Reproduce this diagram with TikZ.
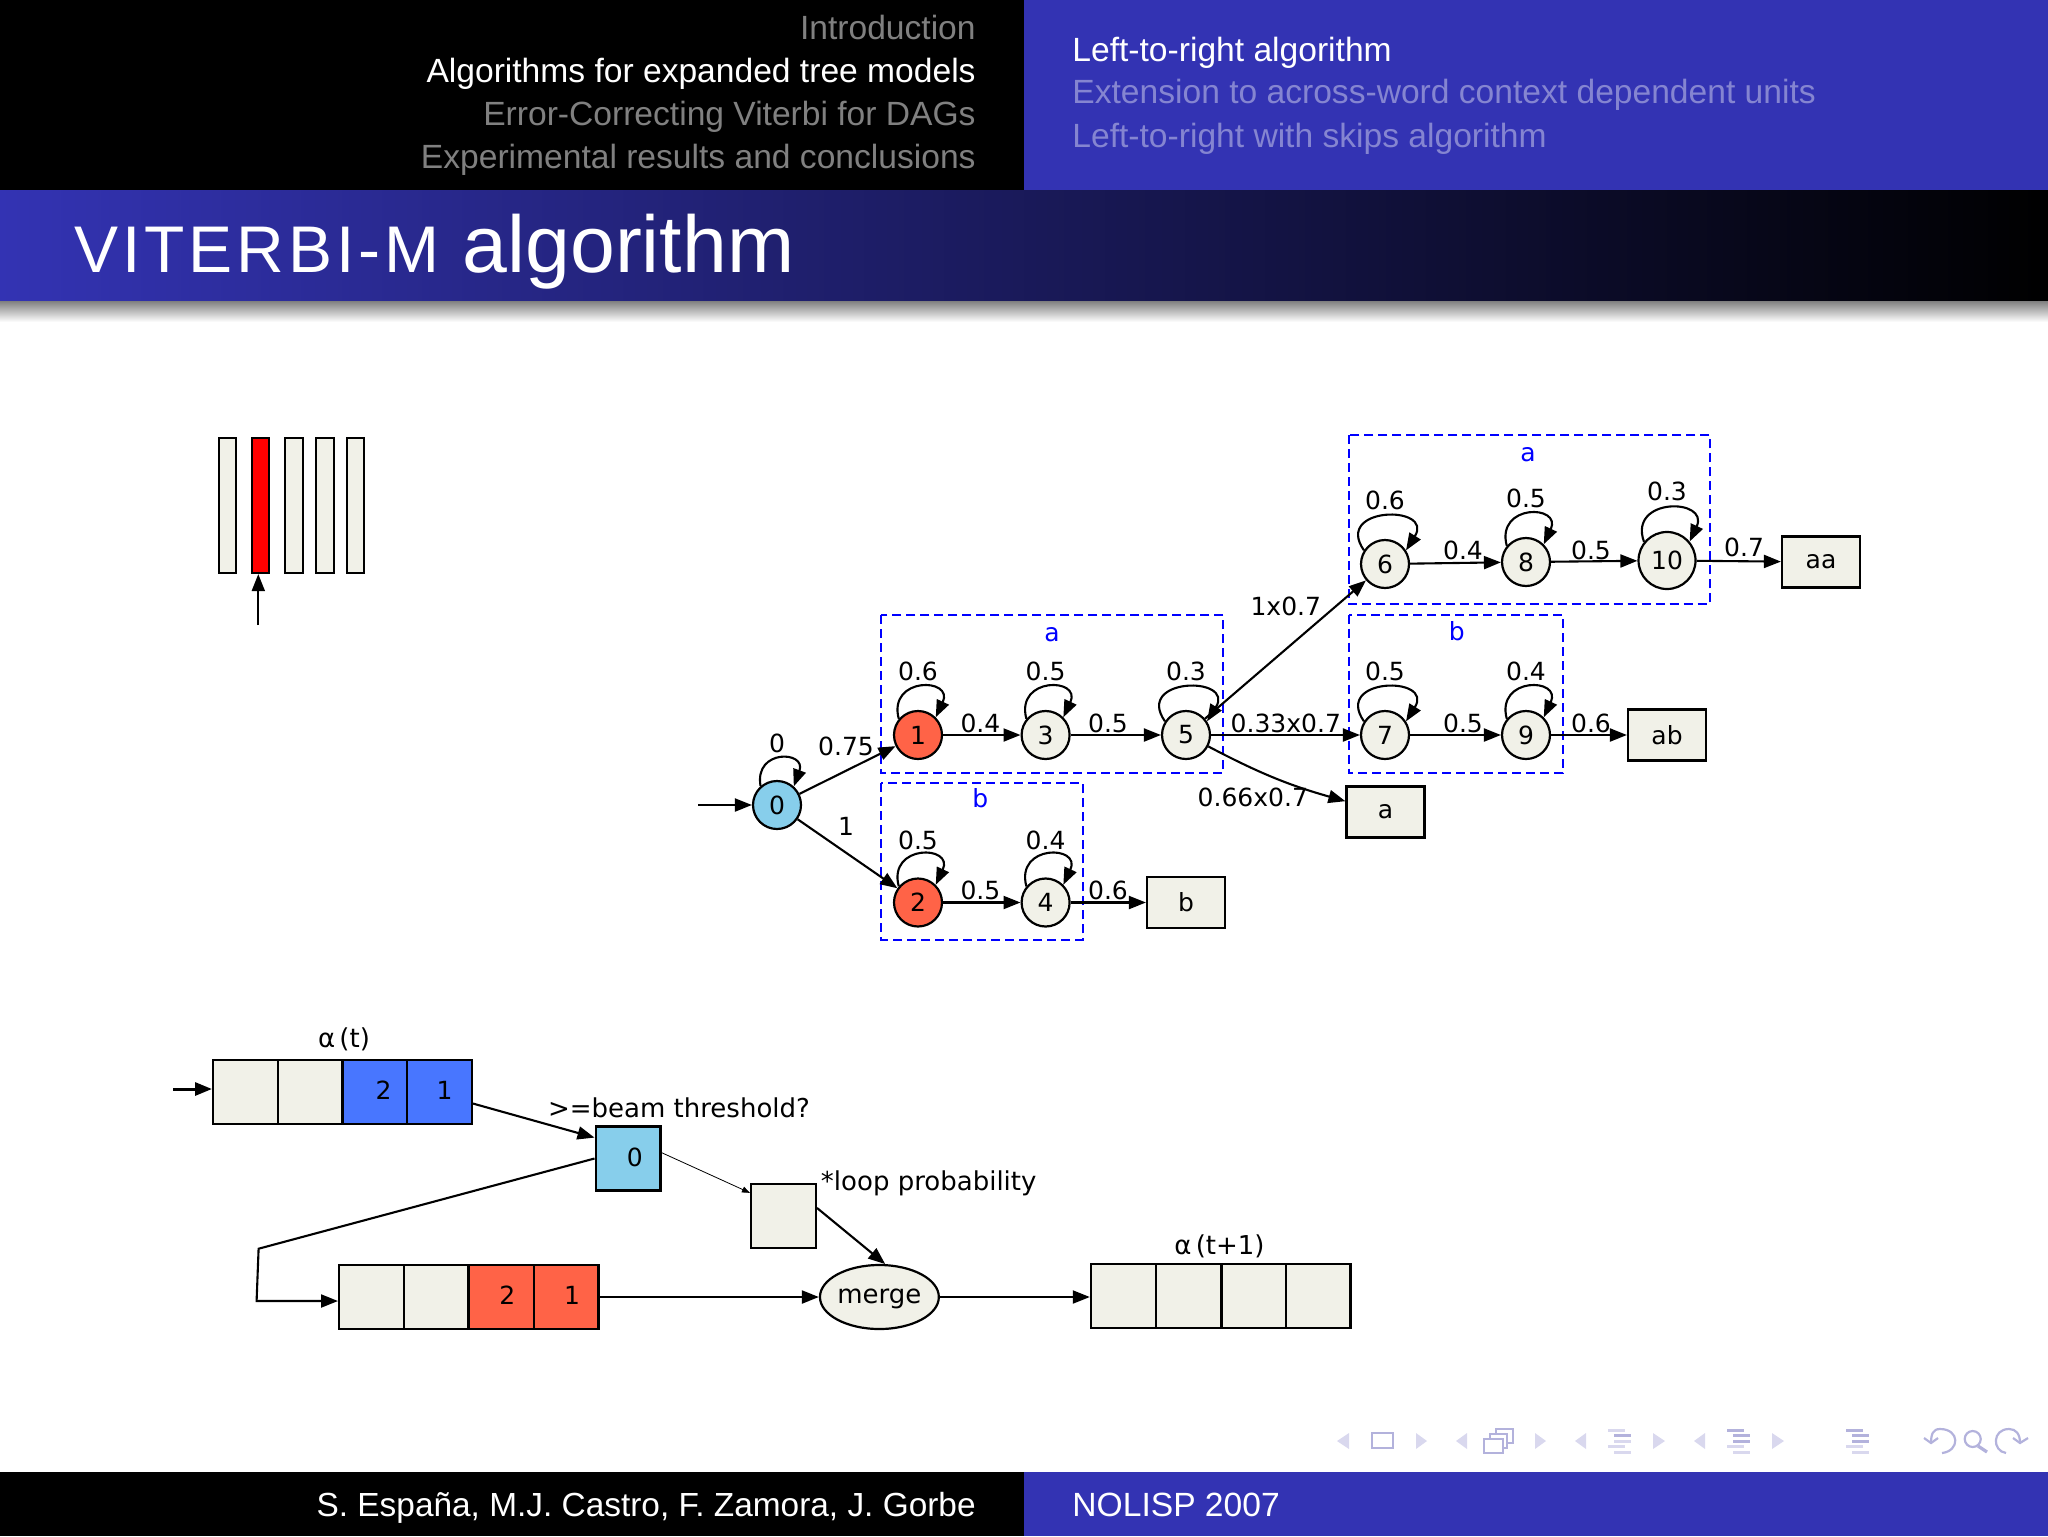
\documentclass[tikz,border=0pt]{standalone}
\usepackage{fontspec}
\setmainfont{Liberation Sans}
\newfontfamily\dotfont{DejaVu Sans}
\usetikzlibrary{arrows.meta,shapes.geometric}
\definecolor{slideblue}{HTML}{3333B3}
\definecolor{dimblue}{HTML}{8585D1}
\definecolor{dimgrey}{HTML}{808080}
\definecolor{cream}{HTML}{F1F1E8}
\definecolor{tomato}{HTML}{FF6347}
\definecolor{skyblue}{HTML}{87CEEB}
\definecolor{royal}{HTML}{4876FF}
\definecolor{navpale}{HTML}{D9D8EE}
\definecolor{navdark}{HTML}{B3B2DC}
\tikzset{
  state/.style={circle,draw,line width=1.1pt,fill=cream,minimum size=24pt,inner sep=0pt,font=\dotfont\fontsize{12.5}{14}\selectfont},
  final/.style={rectangle,draw,line width=1.1pt,fill=cream,minimum width=39pt,minimum height=25.5pt,inner sep=0pt,font=\dotfont\fontsize{12.5}{14}\selectfont},
  bar/.style={rectangle,draw,line width=1.1pt,fill=cream,minimum width=8.7pt,minimum height=67.5pt,inner sep=0pt},
  cell/.style={rectangle,draw,line width=1.1pt,fill=cream,minimum width=32.4pt,minimum height=32pt,inner sep=0pt,text height=7.5pt,text depth=0pt,font=\dotfont\fontsize{12.5}{14}\selectfont},
  lbl/.style={inner sep=0pt,font=\dotfont\fontsize{12.5}{14}\selectfont},
  biglbl/.style={inner sep=0pt,font=\dotfont\fontsize{13}{15}\selectfont},
  group/.style={draw=blue,line width=1pt,dash pattern=on 4.5pt off 2.5pt},
  grouplbl/.style={lbl,text=blue},
  edge/.style={line width=1.05pt,-{Triangle[length=8.5pt,width=6.5pt]}},
  selfloop/.style={out=105,in=65,distance=22pt},
  wideloop/.style={out=125,in=58,distance=27pt},
  head/.style={inner sep=0pt,font=\fontsize{16.8}{20}\selectfont},
  navtri/.style={fill=navpale,draw=none},
  navline/.style={draw=navdark,line width=1.1pt}
}
\begin{document}
\begin{tikzpicture}[x=0.5pt,y=-0.5pt]
  \useasboundingbox (0,0) rectangle (2048,1536);
  % header and footer
  \fill[black] (0,0) rectangle (1024,190);
  \fill[slideblue] (1024,0) rectangle (2048,190);
  \shade[left color=slideblue,right color=black] (0,190) rectangle (2048,301);
  \shade[top color=black!50,bottom color=white] (0,301) rectangle (2048,322);
  \fill[black] (0,1472) rectangle (1024,1536);
  \fill[slideblue] (1024,1472) rectangle (2048,1536);
  \node[head,anchor=base east,text=dimgrey] (secintro) at (976,40) {Introduction};
  \node[head,anchor=base east,text=white] (secalgo) at (976,83) {Algorithms for expanded tree models};
  \node[head,anchor=base east,text=dimgrey] (secdag) at (976,126) {Error-Correcting Viterbi for DAGs};
  \node[head,anchor=base east,text=dimgrey] (secres) at (976,168.5) {Experimental results and conclusions};
  \node[head,anchor=base west,text=white] (subleft) at (1072,62) {Left-to-right algorithm};
  \node[head,anchor=base west,text=dimblue] (subext) at (1072,104) {Extension to across-word context dependent units};
  \node[head,anchor=base west,text=dimblue] (subskip) at (1072,148) {Left-to-right with skips algorithm};
  \node[anchor=base west,inner sep=0pt,text=white] (title) at (74,272) {\fontsize{33}{40}\selectfont\addfontfeature{LetterSpace=6}VITERBI-M\hspace{11.5pt}\fontsize{40.3}{48}\selectfont\addfontfeature{LetterSpace=0}algorithm};
  \node[anchor=base east,inner sep=0pt,font=\fontsize{16.7}{20}\selectfont,text=white] (authors) at (976,1516) {S. España, M.J. Castro, F. Zamora, J. Gorbe};
  \node[head,anchor=base west,text=white] (event) at (1072,1516) {NOLISP 2007};
  % frames
  \node[bar] (bar1) at (227.6,505.5) {};
  \node[bar,fill=red] (bar2) at (260.5,505.5) {};
  \node[bar] (bar3) at (294,505.5) {};
  \node[bar] (bar4) at (325,505.5) {};
  \node[bar] (bar5) at (355.5,505.5) {};
  \coordinate (framestart) at (258.3,625);
  \draw[edge] (framestart) -- (framestart |- bar2.south);
  % groups
  \draw[group] (881.3,615) rectangle (1223.3,773);
  \draw[group] (881.3,783.3) rectangle (1082.7,939.6);
  \draw[group] (1348.7,435) rectangle (1710,604);
  \draw[group] (1348.7,614.6) rectangle (1563,773);
  \node[grouplbl] (groupa) at (1052,635) {a};
  \node[grouplbl] (groupb) at (980.4,798) {b};
  \node[grouplbl] (groupaa) at (1528,455) {a};
  \node[grouplbl] (groupab) at (1456.7,631) {b};
  % states
  \node[state,fill=skyblue] (n0) at (777,805) {0};
  \node[state,fill=tomato] (n1) at (918,735) {1};
  \node[state,fill=tomato] (n2) at (918,902.5) {2};
  \node[state] (n3) at (1045.6,735) {3};
  \node[state] (n4) at (1045.6,902.5) {4};
  \node[state] (n5) at (1186,735) {5};
  \node[state] (n6) at (1385,564) {6};
  \node[state] (n7) at (1385,735) {7};
  \node[state] (n8) at (1526,562) {8};
  \node[state] (n9) at (1526,735) {9};
  \node[state,minimum size=28.5pt] (n10) at (1667,560.5) {10};
  \node[final] (wa) at (1385.5,812) {a};
  \node[final] (wb) at (1186,902.5) {b};
  \node[final] (waa) at (1821,562) {aa};
  \node[final] (wab) at (1667,735) {ab};
  \coordinate (treestart) at (698,805);
  \draw[edge] (treestart) -- (n0);
  \draw[edge] (n0) -- (n1);
  \draw[edge] (n0) -- (n2);
  \draw[edge] (n1) -- (n3);
  \draw[edge] (n3) -- (n5);
  \draw[edge] (n2) -- (n4);
  \draw[edge] (n4) -- (wb);
  \draw[edge] (n5) -- (n6);
  \draw[edge] (n5) -- (n7);
  \draw[edge] (n5) to[bend right=6] (wa);
  \draw[edge] (n6) -- (n8);
  \draw[edge] (n8) -- (n10);
  \draw[edge] (n10) -- (waa);
  \draw[edge] (n7) -- (n9);
  \draw[edge] (n9) -- (wab);
  \draw[edge] (n0.131) to[out=100,in=70,distance=19pt] (n0.48);
  \draw[edge] (n1.140) to[selfloop] (n1.45);
  \draw[edge] (n2.140) to[selfloop] (n2.45);
  \draw[edge] (n3.140) to[selfloop] (n3.45);
  \draw[edge] (n4.140) to[selfloop] (n4.45);
  \draw[edge] (n8.140) to[selfloop] (n8.45);
  \draw[edge] (n9.140) to[selfloop] (n9.45);
  \draw[edge] (n5.147) to[wideloop] (n5.33);
  \draw[edge] (n6.147) to[wideloop] (n6.33);
  \draw[edge] (n7.147) to[wideloop] (n7.33);
  \draw[edge] (n10.141) to[out=110,in=65,distance=24pt] (n10.40);
  % edge labels
  \node[lbl] (p00) at (777,743) {0};
  \node[lbl] (p01) at (846,746.5) {0.75};
  \node[lbl] (p02) at (846,826) {1};
  \node[lbl] (p11) at (918,671) {0.6};
  \node[lbl] (p33) at (1045.6,671) {0.5};
  \node[lbl] (p55) at (1186,671) {0.3};
  \node[lbl] (p13) at (980.4,723) {0.4};
  \node[lbl] (p35) at (1108,723) {0.5};
  \node[lbl] (p56) at (1285.8,606) {1x0.7};
  \node[lbl] (p57) at (1285.8,723) {0.33x0.7};
  \node[lbl] (p5a) at (1252.8,797) {0.66x0.7};
  \node[lbl] (p22) at (918,840) {0.5};
  \node[lbl] (p44) at (1045.6,840) {0.4};
  \node[lbl] (p24) at (980.4,890) {0.5};
  \node[lbl] (p4b) at (1108,890) {0.6};
  \node[lbl] (p66) at (1385,500) {0.6};
  \node[lbl] (p88) at (1526,498) {0.5};
  \node[lbl] (p1010) at (1667,491) {0.3};
  \node[lbl] (p68) at (1463,550) {0.4};
  \node[lbl] (p810) at (1591,550) {0.5};
  \node[lbl] (p10aa) at (1744,547) {0.7};
  \node[lbl] (p77) at (1385,671) {0.5};
  \node[lbl] (p99) at (1526,671) {0.4};
  \node[lbl] (p79) at (1463,723) {0.5};
  \node[lbl] (p9ab) at (1591,723) {0.6};
  % lists
  \node[cell] (ra) at (245.5,1092) {};
  \node[cell] (rb) at (310,1092) {};
  \node[cell,fill=royal] (rc) at (375,1092) {\hspace*{8.6pt}2};
  \node[cell,fill=royal] (rd) at (439.5,1092) {\hspace*{5pt}1};
  \node[cell,fill=skyblue] (zero) at (628,1158.5) {\hspace*{6.7pt}0};
  \node[cell] (prob) at (783.5,1216.3) {};
  \node[cell] (sa) at (371.5,1297) {};
  \node[cell] (sb) at (436,1297) {};
  \node[cell,fill=tomato] (sc) at (501.5,1297) {\hspace*{5.7pt}2};
  \node[cell,fill=tomato] (sd) at (566,1297) {\hspace*{6pt}1};
  \node[ellipse,draw,line width=1.1pt,fill=cream,minimum width=57pt,minimum height=32pt,inner sep=0pt,text height=8pt,text depth=1.4pt,font=\dotfont\fontsize{13}{15}\selectfont] (merge) at (879.4,1297) {merge};
  \node[cell] (ta) at (1123.3,1296) {};
  \node[cell] (tb) at (1188.3,1296) {};
  \node[cell] (tc) at (1254,1296) {};
  \node[cell] (td) at (1318,1296) {};
  \node[biglbl] (alphat) at (344,1039) {α\,(t)};
  \node[biglbl] (alphanext) at (1219.5,1246.7) {α\,(t+1)};
  \node[biglbl] (beam) at (679,1108) {>=beam threshold?};
  \node[biglbl] (loopprob) at (928.7,1183) {*loop probability};
  \coordinate (liststart) at (173,1089);
  \coordinate (benda) at (258.6,1248.7);
  \coordinate (bendb) at (256.6,1301);
  \draw[edge,line width=1.5pt] (liststart) -- (liststart -| ra.west);
  \draw[edge] (rd.-19) -- (zero.148);
  \draw[line width=0.4pt,-{Triangle[length=4pt,width=3pt]}] (zero.10) -- (prob.145);
  \draw[edge] (zero.west) -- (benda) -- (bendb) -- (bendb -| sa.west);
  \draw[edge] (sd.east) -- (merge.west);
  \draw[edge] (prob.14) -- (merge.80);
  \draw[edge] (merge.east) -- (merge.east -| ta.west);
  % navigation symbols
  \foreach \x/\y in {1349/1337,1467/1456,1586/1575,1705/1694}
    \fill[navtri] (\x,1433) -- (\y,1441) -- (\x,1449) -- cycle;
  \foreach \x/\y in {1416/1427,1535/1546,1653/1665,1772/1784}
    \fill[navtri] (\x,1433) -- (\y,1441) -- (\x,1449) -- cycle;
  \draw[navline] (1372,1433) rectangle (1393,1448);
  \draw[navline,fill=white] (1496,1429) rectangle (1513,1443);
  \draw[navline,fill=white] (1490,1434) rectangle (1507,1448);
  \draw[navline,fill=white] (1484,1439) rectangle (1503,1453);
  \foreach \x/\c/\d in {1608/navpale/navdark,1727/navdark/navdark,1846/navdark/navdark}{
    \fill[\c] (\x,1429) rectangle +(17,3);
    \fill[\d] (\x+6,1434) rectangle +(17,3);
    \fill[\c] (\x+6,1440) rectangle +(17,3);
    \fill[navpale] (\x,1445) rectangle +(17,3);
    \fill[navpale] (\x+6,1451) rectangle +(17,3);
  }
  \draw[navline] (1942,1453) .. controls (1960,1451) and (1960,1429) .. (1940,1429) .. controls (1933,1429) and (1931,1434) .. (1931,1443);
  \draw[navline] (1924,1438) -- (1931,1443) -- (1938,1438);
  \draw[navline] (1972.7,1439) circle (8);
  \draw[navline,line width=1.6pt] (1978,1446) -- (1987,1452);
  \draw[navline] (2006,1453) .. controls (1992,1451) and (1992,1429) .. (2009,1429) .. controls (2016,1429) and (2020,1434) .. (2020,1443);
  \draw[navline] (2013,1438) -- (2020,1443) -- (2028,1438);
\end{tikzpicture}
\end{document}
